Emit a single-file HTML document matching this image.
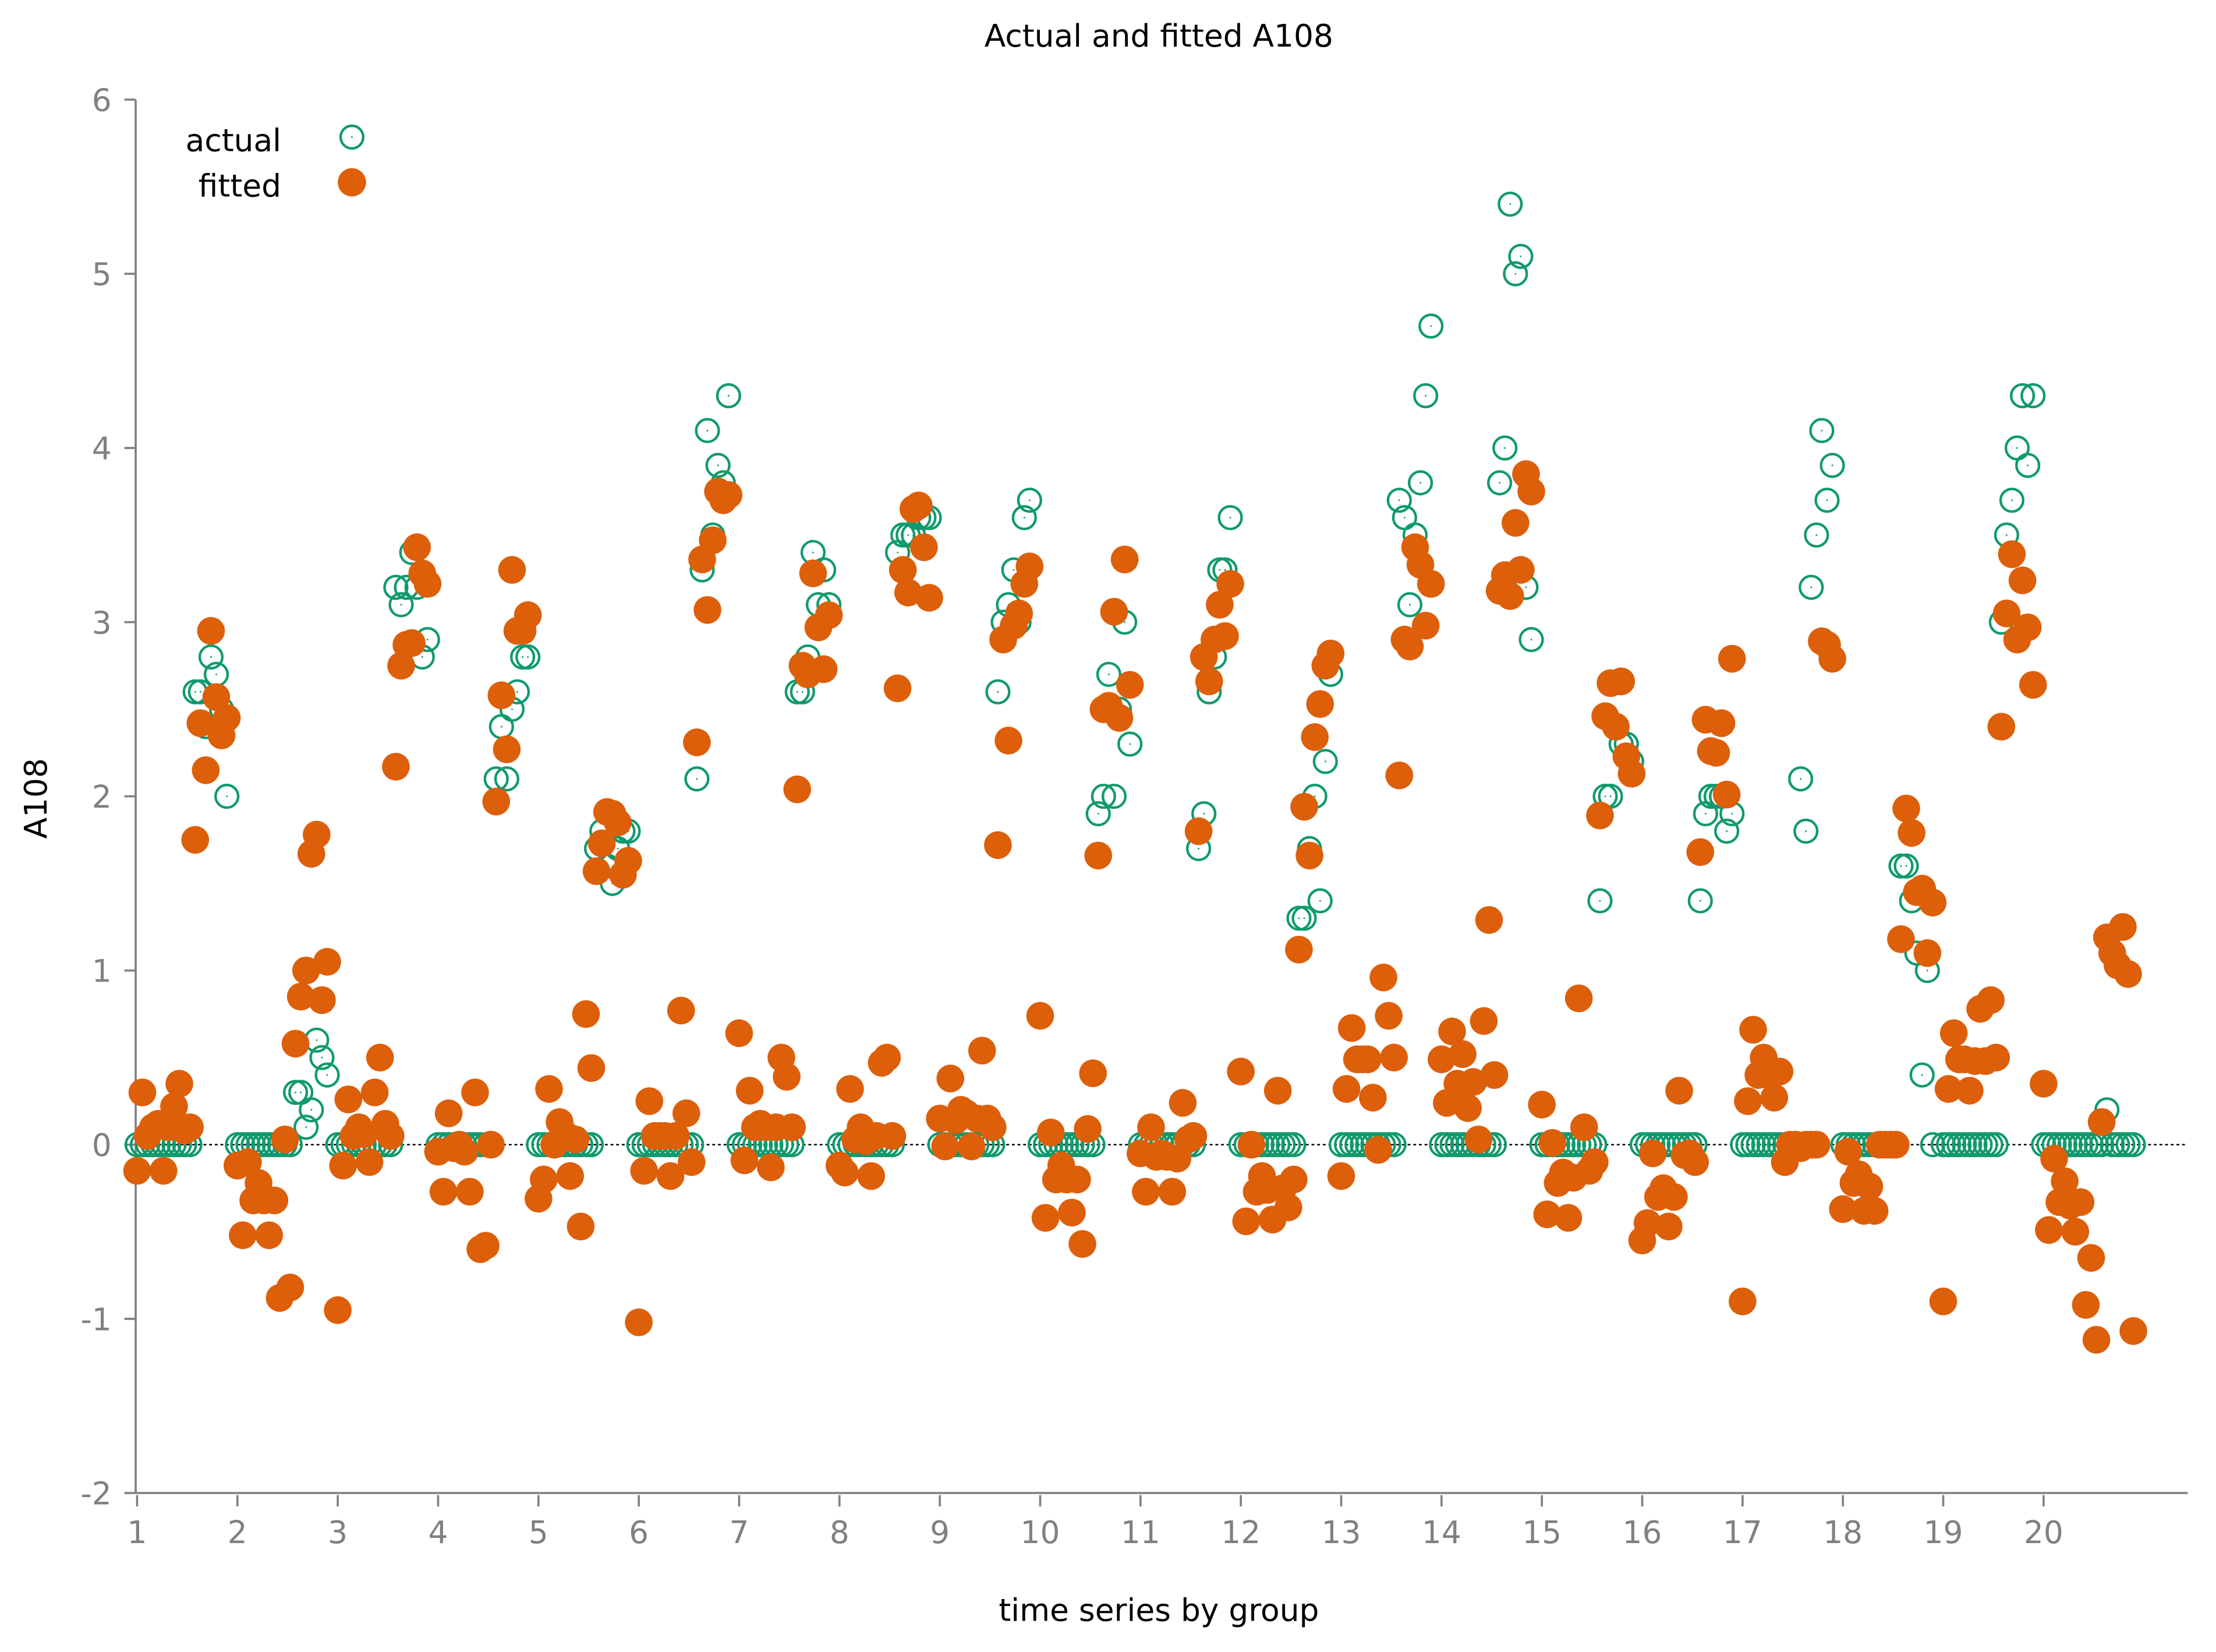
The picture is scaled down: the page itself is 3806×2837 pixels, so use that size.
<!DOCTYPE html>
<html>
<head>
<meta charset="utf-8">
<style>
  html, body { margin: 0; padding: 0; background: #fff; }
  svg { display: block; }
  text { font-family: "DejaVu Sans", "Liberation Sans", sans-serif; }
</style>
</head>
<body>
<svg id="chart" width="3806" height="2837" viewBox="0 0 1568 1169" preserveAspectRatio="none" xmlns="http://www.w3.org/2000/svg">
  <rect x="0" y="0" width="1568" height="1169" fill="#ffffff"/>
  <text x="820" y="33" text-anchor="middle" font-size="22" fill="#000">Actual and fitted A108</text>
  <text x="0" y="0" transform="translate(33,565) rotate(-90)" text-anchor="middle" font-size="22" fill="#000">A108</text>
  <text x="820" y="1147" text-anchor="middle" font-size="22" fill="#000">time series by group</text>
  <g id="axes"></g>
  <g id="marks"></g>
  <g>
    <text x="199" y="107" text-anchor="end" font-size="22" fill="#000">actual</text>
    <circle cx="249" cy="97" r="8" fill="none" stroke="#109a6e" stroke-width="1.8"/>
    <circle cx="249" cy="97" r="0.6" fill="#109a6e"/>
    <text x="199" y="139" text-anchor="end" font-size="22" fill="#000">fitted</text>
    <circle cx="249" cy="129" r="10" fill="#dd5f0a"/>
  </g>
</svg>
<script>
const groups = [1,2,3,4,5,6,7,8,9,10,11,12,13,14,15,16,17,18,19,20];
const yTicks = [-2,-1,0,1,2,3,4,5,6];
const xTickLabels = ["1","2","3","4","5","6","7","8","9","10","11","12","13","14","15","16","17","18","19","20"];
const actualTails = [
  [2.6,2.6,2.4,2.8,2.7,2.5,2.0],
  [0.3,0.3,0.1,0.2,0.6,0.5,0.4],
  [3.2,3.1,3.2,3.4,3.2,2.8,2.9],
  [2.1,2.4,2.1,2.5,2.6,2.8,2.8],
  [1.7,1.8,1.6,1.5,1.7,1.8,1.8],
  [2.1,3.3,4.1,3.5,3.9,3.8,4.3],
  [2.6,2.6,2.8,3.4,3.1,3.3,3.1],
  [3.4,3.5,3.5,3.5,3.6,3.6,3.6],
  [2.6,3.0,3.1,3.3,3.0,3.6,3.7],
  [1.9,2.0,2.7,2.0,2.5,3.0,2.3],
  [1.7,1.9,2.6,2.8,3.3,3.3,3.6],
  [1.3,1.3,1.7,2.0,1.4,2.2,2.7],
  [3.7,3.6,3.1,3.5,3.8,4.3,4.7],
  [3.8,4.0,5.4,5.0,5.1,3.2,2.9],
  [1.4,2.0,2.0,2.4,2.3,2.3,2.2],
  [1.4,1.9,2.0,2.0,2.0,1.8,1.9],
  [2.1,1.8,3.2,3.5,4.1,3.7,3.9],
  [1.6,1.6,1.4,1.1,0.4,1.0,0],
  [3.0,3.5,3.7,4.0,4.3,3.9,4.3],
  [0,0.2,0,0,0,0,0]
];
const fittedValues = [
  [-0.15,0.3,0.05,0.1,0.12,-0.15,0.1,0.22,0.35,0.08,0.1,1.75,2.42,2.15,2.95,2.57,2.35,2.45],
  [-0.12,-0.52,-0.1,-0.32,-0.22,-0.32,-0.52,-0.32,-0.88,0.03,-0.82,0.58,0.85,1.0,1.67,1.78,0.83,1.05],
  [-0.95,-0.12,0.26,0.05,0.1,0.06,-0.1,0.3,0.5,0.12,0.05,2.17,2.75,2.87,2.88,3.43,3.28,3.22],
  [-0.04,-0.27,0.18,-0.02,0.0,-0.04,-0.27,0.3,-0.6,-0.58,0.0,1.97,2.58,2.27,3.3,2.95,2.95,3.04],
  [-0.31,-0.2,0.32,0.0,0.13,0.06,-0.18,0.03,-0.47,0.75,0.44,1.57,1.73,1.91,1.9,1.85,1.55,1.63],
  [-1.02,-0.15,0.25,0.05,0.05,0.05,-0.18,0.05,0.77,0.18,-0.1,2.31,3.36,3.07,3.47,3.75,3.7,3.73],
  [0.64,-0.09,0.31,0.1,0.12,0.1,-0.13,0.1,0.5,0.39,0.1,2.04,2.75,2.7,3.28,2.97,2.73,3.04],
  [-0.12,-0.16,0.32,0.03,0.1,0.02,-0.18,0.05,0.47,0.5,0.05,2.62,3.3,3.17,3.65,3.67,3.43,3.14],
  [0.15,-0.01,0.38,0.14,0.2,0.18,-0.01,0.15,0.54,0.15,0.1,1.72,2.9,2.32,2.98,3.05,3.22,3.32],
  [0.74,-0.42,0.07,-0.2,-0.12,-0.2,-0.39,-0.2,-0.57,0.09,0.41,1.66,2.5,2.52,3.06,2.45,3.36,2.64],
  [-0.05,-0.27,0.1,-0.07,-0.05,-0.07,-0.27,-0.08,0.24,0.03,0.05,1.8,2.8,2.66,2.9,3.1,2.92,3.22],
  [0.42,-0.44,0.0,-0.27,-0.18,-0.26,-0.43,0.31,-0.25,-0.36,-0.2,1.12,1.94,1.66,2.34,2.53,2.75,2.82],
  [-0.18,0.32,0.67,0.49,0.49,0.49,0.27,-0.03,0.96,0.74,0.5,2.12,2.9,2.86,3.43,3.33,2.98,3.22],
  [0.49,0.24,0.65,0.35,0.52,0.21,0.36,0.03,0.71,1.29,0.4,3.18,3.27,3.15,3.57,3.3,3.85,3.75],
  [0.23,-0.4,0.01,-0.22,-0.16,-0.42,-0.19,0.84,0.1,-0.15,-0.1,1.89,2.46,2.65,2.4,2.66,2.23,2.13],
  [-0.55,-0.45,-0.05,-0.3,-0.25,-0.47,-0.3,0.31,-0.06,-0.05,-0.1,1.68,2.44,2.26,2.25,2.42,2.01,2.79],
  [-0.9,0.25,0.66,0.4,0.5,0.4,0.27,0.42,-0.1,0.0,0.0,-0.02,0.0,0.0,0.0,2.89,2.87,2.79],
  [-0.37,-0.04,-0.22,-0.17,-0.38,-0.24,-0.38,0.0,0.0,0.0,0.0,1.18,1.93,1.79,1.45,1.47,1.1,1.39],
  [-0.9,0.32,0.64,0.49,0.49,0.31,0.48,0.78,0.48,0.83,0.5,2.4,3.05,3.39,2.9,3.24,2.97,2.64],
  [0.35,-0.49,-0.08,-0.33,-0.21,-0.35,-0.5,-0.33,-0.92,-0.65,-1.12,0.13,1.19,1.1,1.03,1.25,0.98,-1.07]
];
const zeroCount = 11;

const NS = "http://www.w3.org/2000/svg";
const X0 = 97, XSTEP = 71, Y0 = 810, YSTEP = 123.25;
function xScale(v) { return X0 + (v - 1) * XSTEP; }
function yScale(v) { return Y0 - v * YSTEP; }
function mk(tag, attrs, parent) {
  const e = document.createElementNS(NS, tag);
  for (const k in attrs) e.setAttribute(k, attrs[k]);
  parent.appendChild(e);
  return e;
}
const axes = document.getElementById('axes');
const marks = document.getElementById('marks');

let el = mk('line', {x1:96, y1:yScale(6), x2:96, y2:yScale(-2), stroke:'#808080', 'stroke-width':1.5}, axes);


el = mk('line', {x1:96, y1:yScale(-2), x2:1548, y2:yScale(-2), stroke:'#808080', 'stroke-width':1.5}, axes);


el = mk('line', {x1:96, y1:yScale(0), x2:1548, y2:yScale(0), stroke:'#000', 'stroke-width':1, 'stroke-dasharray':'2,2'}, axes);



yTicks.forEach(function(t) {
  const y = yScale(t);
  const tk = mk('line', {x1:88, y1:y, x2:96, y2:y, stroke:'#808080', 'stroke-width':1.5}, axes);
  
  
  const lb = mk('text', {x:79, y:y + 8, 'text-anchor':'end', 'font-size':22, fill:'#808080'}, axes);
  lb.textContent = String(t);
  
  
});
groups.forEach(function(g, i) {
  const x = xScale(g);
  const tk = mk('line', {x1:x, y1:1058, x2:x, y2:1066, stroke:'#808080', 'stroke-width':1.5}, axes);
  
  
  const lb = mk('text', {x:x, y:1092, 'text-anchor':'middle', 'font-size':22, fill:'#808080'}, axes);
  lb.textContent = xTickLabels[i];
  
  
});

groups.forEach(function(g, gi) {
  const actual = [];
  for (let t = 0; t < zeroCount; t++) actual.push(0);
  actualTails[gi].forEach(function(v) { actual.push(v); });
  actual.forEach(function(v, t) {
    const cx = xScale(g + t / 19), cy = yScale(v);
    const c = mk('circle', {cx:cx, cy:cy, r:8, fill:'none', stroke:'#109a6e', 'stroke-width':1.8}, marks);
    
    
    const d = mk('circle', {cx:cx, cy:cy, r:0.6, fill:'#109a6e'}, marks);
    
    
  });
});
groups.forEach(function(g, gi) {
  fittedValues[gi].forEach(function(v, t) {
    const c = mk('circle', {cx:xScale(g + t / 19), cy:yScale(v), r:9.8, fill:'#dd5f0a'}, marks);
    
    
  });
});
</script>
</body>
</html>
